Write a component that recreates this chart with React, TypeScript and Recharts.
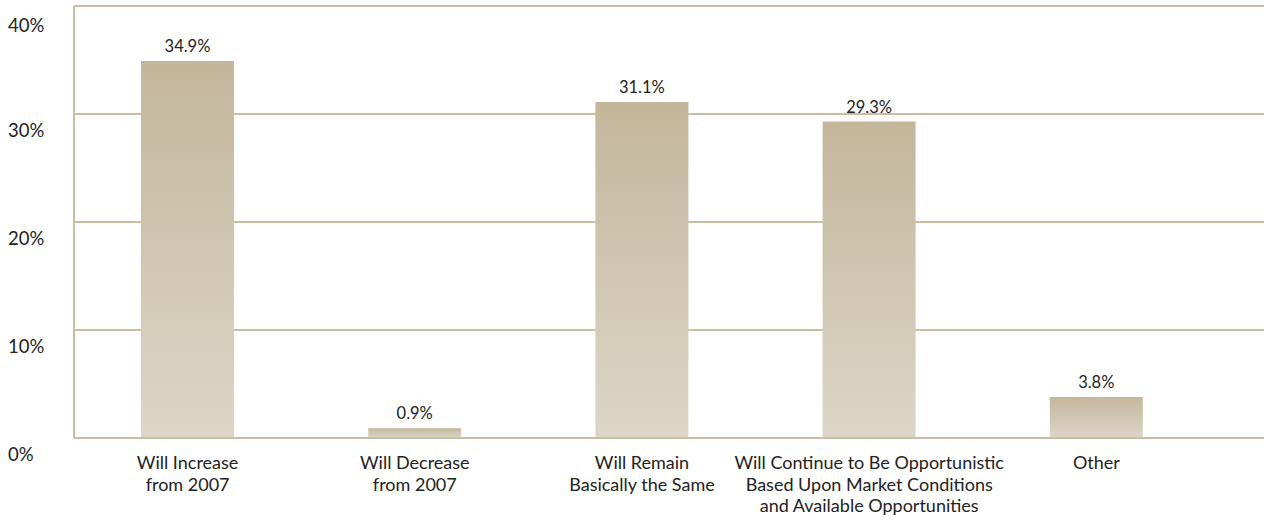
import React from 'react';
import { BarChart, Bar, XAxis, YAxis, CartesianGrid, LabelList } from 'recharts';

const categories = [
  'Will Increase\nfrom 2007',
  'Will Decrease\nfrom 2007',
  'Will Remain\nBasically the Same',
  'Will Continue to Be Opportunistic\nBased Upon Market Conditions\nand Available Opportunities',
  'Other',
];
const shares = [34.9, 0.9, 31.1, 29.3, 3.8];
const yTicks = [0, 10, 20, 30, 40];

const data = categories.map((name, i) => ({ name, value: shares[i] }));

const FONT = 'Lato, "Open Sans", sans-serif';
const LINE = '#c9bda4';

const YTick = (props: any) => {
  const { y, payload } = props;
  return (
    <text x={8} y={y} dy={23} textAnchor="start" fontSize={18.5} fontFamily={FONT} fill="#222">
      {payload.value}%
    </text>
  );
};

const XTick = (props: any) => {
  const { x, y, payload } = props;
  const lines = String(payload.value).split('\n');
  return (
    <g>
      {lines.map((line, i) => (
        <text key={i} x={x} y={y} dy={23 + i * 21.5} textAnchor="middle" fontSize={18} fontFamily={FONT} fill="#222">
          {line}
        </text>
      ))}
    </g>
  );
};

const App: React.FC = () => {
  return (
    <div style={{ position: 'absolute', left: 0, top: 0, background: '#fff' }}>
      <BarChart width={1264} height={522} data={data} margin={{ top: 6, right: 0, left: 0, bottom: 54 }}>
        <defs>
          <linearGradient id="barFill" x1="0" y1="0" x2="0" y2="1">
            <stop offset="0%" stopColor="#c3b69b" />
            <stop offset="100%" stopColor="#ddd6c7" />
          </linearGradient>
        </defs>
        <CartesianGrid vertical={false} stroke={LINE} strokeWidth={2} />
        <XAxis
          dataKey="name"
          height={30}
          interval={0}
          tickLine={false}
          axisLine={{ stroke: LINE, strokeWidth: 2 }}
          padding={{ left: 0, right: 54 }}
          tick={<XTick />}
        />
        <YAxis
          width={74}
          domain={[0, 40]}
          ticks={yTicks}
          tickLine={false}
          axisLine={{ stroke: LINE, strokeWidth: 2 }}
          tick={<YTick />}
        />
        <Bar dataKey="value" barSize={93} fill="url(#barFill)" isAnimationActive={false}>
          <LabelList
            dataKey="value"
            position="top"
            offset={9}
            formatter={(v: any) => `${v}%`}
            style={{ fontSize: 16.5, fontFamily: FONT, fill: '#222' }}
          />
        </Bar>
      </BarChart>
    </div>
  );
};

export default App;
